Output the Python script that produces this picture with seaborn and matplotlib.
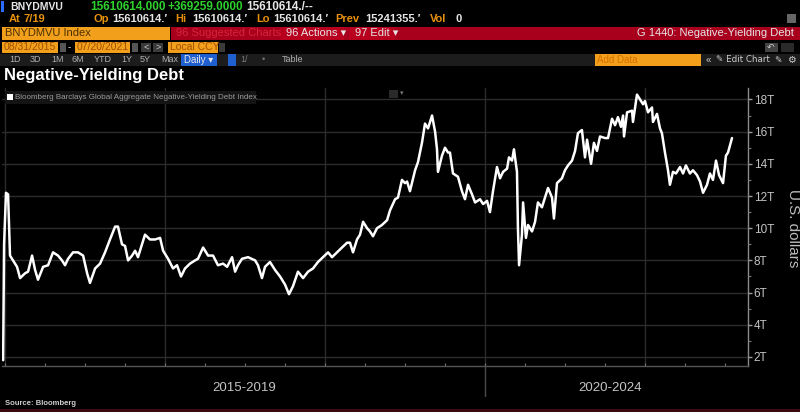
import matplotlib
matplotlib.use("Agg")
import matplotlib.pyplot as plt
from matplotlib.patches import Rectangle
import seaborn as sns
import pandas as pd

# ---------------- data ----------------
years = [2016.988, 2016.994, 2017.006, 2017.019, 2017.031, 2017.050, 2017.075, 2017.094, 2017.125, 2017.144,
         2017.169, 2017.188, 2017.206, 2017.238, 2017.269, 2017.300, 2017.331, 2017.356, 2017.375, 2017.394,
         2017.425, 2017.456, 2017.488, 2017.513, 2017.531, 2017.563, 2017.594, 2017.625, 2017.656, 2017.688,
         2017.706, 2017.731, 2017.750, 2017.769, 2017.794, 2017.813, 2017.831, 2017.856, 2017.875, 2017.906,
         2017.938, 2017.969, 2017.988, 2018.019, 2018.050, 2018.075, 2018.100, 2018.125, 2018.156, 2018.188,
         2018.206, 2018.238, 2018.269, 2018.300, 2018.331, 2018.363, 2018.388, 2018.419, 2018.438, 2018.456,
         2018.481, 2018.519, 2018.563, 2018.581, 2018.606, 2018.625, 2018.656, 2018.688, 2018.719, 2018.750,
         2018.775, 2018.800, 2018.831, 2018.863, 2018.894, 2018.925, 2018.956, 2018.988, 2019.019, 2019.044,
         2019.075, 2019.106, 2019.138, 2019.156, 2019.175, 2019.200, 2019.219, 2019.238, 2019.263, 2019.281,
         2019.300, 2019.325, 2019.356, 2019.388, 2019.406, 2019.438, 2019.456, 2019.481, 2019.500, 2019.513,
         2019.531, 2019.563, 2019.581, 2019.606, 2019.625, 2019.644, 2019.669, 2019.688, 2019.700, 2019.706,
         2019.731, 2019.750, 2019.769, 2019.781, 2019.800, 2019.831, 2019.856, 2019.875, 2019.894, 2019.919,
         2019.938, 2019.969, 2019.988, 2020.013, 2020.031, 2020.050, 2020.075, 2020.094, 2020.113, 2020.138,
         2020.150, 2020.169, 2020.181, 2020.200, 2020.206, 2020.213, 2020.231, 2020.238, 2020.256, 2020.269,
         2020.294, 2020.313, 2020.331, 2020.356, 2020.375, 2020.394, 2020.419, 2020.431, 2020.450, 2020.481,
         2020.500, 2020.519, 2020.544, 2020.563, 2020.581, 2020.606, 2020.625, 2020.638, 2020.663, 2020.681,
         2020.700, 2020.719, 2020.750, 2020.769, 2020.794, 2020.813, 2020.831, 2020.850, 2020.863, 2020.869,
         2020.888, 2020.919, 2020.925, 2020.950, 2020.969, 2020.988, 2021.000, 2021.019, 2021.044, 2021.050,
         2021.075, 2021.094, 2021.106, 2021.125, 2021.144, 2021.156, 2021.175, 2021.194, 2021.219, 2021.238,
         2021.256, 2021.281, 2021.300, 2021.325, 2021.344, 2021.363, 2021.388, 2021.406, 2021.425, 2021.444,
         2021.463, 2021.488, 2021.506, 2021.519, 2021.544]

debt_trn = [1.8, 9.0, 12.2, 12.1, 8.3, 8.0, 7.6, 6.9, 7.2, 7.3,
            8.3, 7.4, 6.8, 7.6, 7.7, 8.5, 8.3, 8.0, 7.7, 8.1,
            8.5, 8.5, 8.3, 7.2, 6.6, 7.5, 7.8, 8.5, 9.3, 10.1,
            10.1, 9.0, 8.9, 8.0, 8.3, 8.6, 8.2, 9.0, 9.6, 9.3,
            9.3, 9.4, 8.6, 8.1, 7.5, 7.7, 7.0, 7.5, 7.8, 8.0,
            8.1, 8.8, 8.3, 8.3, 7.7, 7.8, 7.6, 8.2, 7.3, 7.7,
            8.1, 8.2, 8.0, 7.7, 6.9, 7.6, 7.9, 7.4, 7.0, 6.5,
            5.9, 6.4, 7.3, 6.9, 7.3, 7.5, 7.9, 8.2, 8.5, 8.2,
            8.5, 8.8, 9.1, 9.1, 8.5, 9.3, 9.6, 10.4, 10.0, 9.8,
            9.5, 10.0, 10.2, 10.5, 11.1, 11.8, 11.9, 13.0, 12.8, 12.9,
            12.3, 13.6, 14.1, 15.3, 16.5, 16.2, 17.0, 16.0, 14.9, 13.5,
            14.5, 15.0, 14.7, 14.7, 13.4, 13.2, 12.3, 11.8, 12.7, 12.1,
            11.6, 11.8, 11.5, 11.7, 11.0, 12.3, 13.8, 13.1, 13.5, 13.7,
            14.4, 14.2, 14.9, 13.5, 10.0, 7.7, 9.6, 11.6, 9.4, 10.2,
            9.8, 10.4, 11.6, 11.3, 11.9, 12.5, 11.9, 10.6, 12.8, 13.1,
            13.6, 13.9, 14.2, 14.8, 15.9, 16.1, 14.4, 15.5, 14.0, 15.3,
            14.8, 15.7, 15.6, 15.6, 16.8, 16.4, 16.9, 16.3, 17.0, 15.7,
            17.2, 17.3, 16.6, 18.3, 18.0, 17.7, 17.9, 17.2, 17.5, 16.6,
            17.1, 16.2, 15.9, 14.7, 13.6, 12.7, 13.5, 13.4, 13.8, 13.4,
            13.9, 13.4, 13.6, 13.3, 12.9, 12.2, 12.7, 13.4, 13.0, 14.2,
            13.3, 12.8, 14.5, 14.7, 15.6]

y_ticks = [2, 4, 6, 8, 10, 12, 14, 16, 18]
y_tick_labels = ["2T", "4T", "6T", "8T", "10T", "12T", "14T", "16T", "18T"]
year_gridlines = [2017, 2018, 2019, 2020, 2021]
period_labels = ["2015-2019", "2020-2024"]

assert len(years) == len(debt_trn)
df = pd.DataFrame({"year": years, "debt": debt_trn})

# ---------------- style ----------------
sns.set_theme(style="dark")
plt.rcParams["font.family"] = ["Liberation Sans", "DejaVu Sans"]
plt.rcParams["axes.facecolor"] = "black"
plt.rcParams["figure.facecolor"] = "black"

W, H = 800, 412
fig = plt.figure(figsize=(W / 100, H / 100), dpi=100, facecolor="black")


def R(x, y, w, h, c):
    fig.add_artist(Rectangle((x / W, 1 - (y + h) / H), w / W, h / H,
                             transform=fig.transFigure, color=c, lw=0))


def T(x, y, s, **kw):
    kw.setdefault("va", "center")
    kw.setdefault("ha", "left")
    fig.text(x / W, 1 - y / H, s, **kw)


ORANGE = "#f2a01c"
ORANGE_TXT = "#e8920c"
RED = "#a8001c"
GREEN = "#2ed12e"
WHITE = "#e6e6e6"

# ---- header row 1
R(1, 1, 3, 11, "#2a6cff")
T(10, 7, "BNYDMVU", color=WHITE, fontsize=7.5, fontweight="bold")
T(90, 7, "15610614.000", color=GREEN, fontsize=8.5, fontweight="bold")
T(168, 7, "+369259.0000", color=GREEN, fontsize=8.5, fontweight="bold")
T(246, 7, "15610614./--", color=WHITE, fontsize=8.5, fontweight="bold")
# ---- header row 2
T(9, 19, "At", color=ORANGE_TXT, fontsize=8, fontweight="bold")
T(24, 19, "7/19", color=ORANGE_TXT, fontsize=8, fontweight="bold")
T(94, 19, "Op", color=ORANGE_TXT, fontsize=8, fontweight="bold")
T(112, 19, "15610614.\u2032", color=WHITE, fontsize=8, fontweight="bold")
T(175, 19, "Hi", color=ORANGE_TXT, fontsize=8, fontweight="bold")
T(192, 19, "15610614.\u2032", color=WHITE, fontsize=8, fontweight="bold")
T(256, 19, "Lo", color=ORANGE_TXT, fontsize=8, fontweight="bold")
T(273, 19, "15610614.\u2032", color=WHITE, fontsize=8, fontweight="bold")
T(335, 19, "Prev", color=ORANGE_TXT, fontsize=8, fontweight="bold")
T(365, 19, "15241355.\u2032", color=WHITE, fontsize=8, fontweight="bold")
T(430, 19, "Vol", color=ORANGE_TXT, fontsize=8, fontweight="bold")
T(455, 19, "0", color=WHITE, fontsize=8, fontweight="bold")
R(787, 14, 9, 9, "#666666")
# ---- header row 3
R(2, 27, 168, 13, ORANGE)
T(5, 33.5, "BNYDMVU Index", color="#4a3000", fontsize=8)
R(171, 27, 629, 13, RED)
T(176, 33.5, "96 Suggested Charts", color="#d8243a", fontsize=8)
R(280, 27, 64, 13, "#b8001e")
T(286, 33.5, "96 Actions \u25be", color=WHITE, fontsize=8)
R(349, 27, 46, 13, "#b8001e")
T(355, 33.5, "97 Edit \u25be", color=WHITE, fontsize=8)
T(794, 33.5, "G 1440: Negative-Yielding Debt", color=WHITE, fontsize=8, ha="right")
# ---- header row 4
R(2, 42, 56, 11, ORANGE)
T(4, 47.5, "08/31/2015", color="#a05000", fontsize=7.5)
R(60, 43, 6, 9, "#555555")
T(68, 47.5, "-", color=WHITE, fontsize=7)
R(75, 42, 55, 11, ORANGE)
T(77, 47.5, "07/20/2021", color="#a05000", fontsize=7.5)
R(132, 43, 6, 9, "#555555")
R(141, 43, 10, 9, "#3a3a3a")
R(153, 43, 10, 9, "#3a3a3a")
T(143, 47.5, "<", color="#cccccc", fontsize=6.5)
T(155, 47.5, ">", color="#cccccc", fontsize=6.5)
R(168, 42, 50, 11, ORANGE)
T(170, 47.5, "Local CCY", color="#a05000", fontsize=7.5)
R(219, 43, 6, 9, "#3a3a3a")
R(765, 43, 13, 9, "#444444")
R(781, 43, 13, 9, "#2a2a2a")
T(767, 47.5, "\u21b6", color="#cccccc", fontsize=6.5)
# ---- header row 5
R(0, 54, 800, 12, "#1c1c1c")
for xx, s in [(9, "1D"), (30, "3D"), (51, "1M"), (72, "6M"), (94, "YTD"),
              (121, "1Y"), (140, "5Y"), (161, "Max")]:
    T(xx, 60, s, color="#b0b0b0", fontsize=6.5)
R(181, 54, 36, 12, "#1f5fd0")
T(184, 60, "Daily \u25be", color=WHITE, fontsize=7)
R(228, 54, 8, 12, "#1f5fd0")
T(240, 60, "1/", color="#777777", fontsize=6.5)
T(262, 60, "\u2022", color="#777777", fontsize=6.5)
T(282, 60, "Table", color="#b0b0b0", fontsize=6.5)
R(595, 54, 106, 12, ORANGE)
T(597, 60, "Add Data", color="#d87000", fontsize=7)
T(706, 60, "\u00ab", color="#cccccc", fontsize=7)
T(716, 60, "\u270e Edit Chart", color="#cccccc", fontsize=6.3,
  family=["DejaVu Sans"])
T(774, 60, "\u270e", color="#cccccc", fontsize=6.5, family=["DejaVu Sans"])
T(787, 60, "\u2699", color="#cccccc", fontsize=7, family=["DejaVu Sans"])

# ---- title
T(4, 75.5, "Negative-Yielding Debt", color="white", fontsize=12, fontweight="bold")

# ---------------- chart ----------------
ax = fig.add_axes([2 / W, 46 / H, 746 / W, 278 / H])
ax.set_facecolor("black")
sns.lineplot(data=df, x="year", y="debt", ax=ax, color="white", lw=1.8,
             estimator=None, sort=False, legend=False)
ax.set_xlabel("")
ax.set_ylabel("")

ax.set_xticks(year_gridlines)
ax.set_xticks([y + q for y in range(2017, 2022) for q in (0.25, 0.5, 0.75)], minor=True)
ax.set_xticklabels([])
ax.set_yticks(y_ticks)
ax.set_yticklabels(y_tick_labels)
ax.set_yticks(list(range(3, 19, 2)), minor=True)
ax.set_xlim(2016.981, 2021.644)
ax.set_ylim(1.44, 18.71)
ax.yaxis.tick_right()
ax.grid(True, which="major", color="#2c2c2c", lw=1.0)
ax.grid(False, which="minor")
for s in ("top", "left"):
    ax.spines[s].set_visible(False)
ax.spines["right"].set_color("#8a8a8a")
ax.spines["right"].set_linewidth(1.0)
ax.spines["bottom"].set_color("#555555")
ax.spines["bottom"].set_linewidth(1.0)
ax.tick_params(axis="y", which="major", direction="out", length=3, width=1,
               color="#9a9a9a", labelcolor="#c4c4c4", labelsize=8.5, pad=1,
               right=True, left=False)
ax.tick_params(axis="y", which="minor", direction="out", length=2, width=0.8,
               color="#777777", right=True, left=False)
ax.tick_params(axis="x", which="both", direction="in", length=2, width=0.8,
               color="#777777", bottom=True)

# legend box
R(5, 91, 251, 13, "#141414")
R(7, 94, 6, 6, "white")
T(15, 97.5, "Bloomberg Barclays Global Aggregate Negative-Yielding Debt Index",
  color="#9a9a9a", fontsize=5.8)
R(389, 90, 9, 8, "#2a2a2a")
T(400, 94, "\u25be", color="#777777", fontsize=5)

# y label
T(793, 228, "U.S. dollars", color="#bdbdbd", fontsize=11, rotation=270, ha="center")

# period labels
fig.add_artist(plt.Line2D([485 / W, 485 / W], [1 - 366 / H, 1 - 396 / H],
                          transform=fig.transFigure, color="#4a4a4a", lw=1))
T(244, 388, period_labels[0], color="#c4c4c4", fontsize=9.5, ha="center")
T(610, 388, period_labels[1], color="#c4c4c4", fontsize=9.5, ha="center")

# source
T(5, 403.5, "Source: Bloomberg", color="#cfcfcf", fontsize=5.5, fontweight="bold")
R(0, 409, 800, 3, "#3a0a10")

fig.savefig("out.png", dpi=100, facecolor="black")
